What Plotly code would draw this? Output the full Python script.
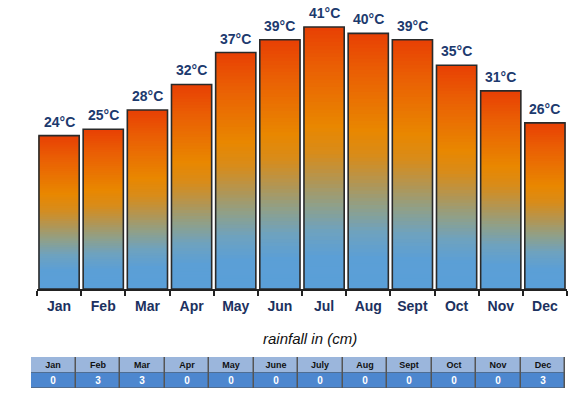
import plotly.graph_objects as go

months = ["Jan", "Feb", "Mar", "Apr", "May", "Jun", "Jul", "Aug", "Sept", "Oct", "Nov", "Dec"]
temps = [24, 25, 28, 32, 37, 39, 41, 40, 39, 35, 31, 26]
table_months = ["Jan", "Feb", "Mar", "Apr", "May", "June", "July", "Aug", "Sept", "Oct", "Nov", "Dec"]
rainfall = [0, 3, 3, 0, 0, 0, 0, 0, 0, 0, 0, 3]

W, H = 578, 398

# gradient stops (position from top of bar, rgb)
stops = [
    (0.00, (232, 64, 4)),
    (0.15, (234, 95, 4)),
    (0.38, (233, 135, 0)),
    (0.48, (216, 140, 26)),
    (0.58, (180, 149, 80)),
    (0.68, (143, 160, 137)),
    (0.78, (110, 162, 191)),
    (0.88, (91, 159, 214)),
    (1.00, (90, 159, 216)),
]

def grad(t):
    for (t0, c0), (t1, c1) in zip(stops[:-1], stops[1:]):
        if t0 <= t <= t1:
            f = (t - t0) / (t1 - t0) if t1 > t0 else 0
            c = [round(a + (b - a) * f) for a, b in zip(c0, c1)]
            return f"rgb({c[0]},{c[1]},{c[2]})"
    c = stops[-1][1]
    return f"rgb({c[0]},{c[1]},{c[2]})"

N = 70
fig = go.Figure()
for k in range(N):
    frac_bottom = k / N
    base = [v * frac_bottom for v in temps]
    height = [v - b for v, b in zip(temps, base)]
    t_from_top = 1 - (k + 0.5) / N
    fig.add_trace(go.Bar(
        x=months, y=height, base=base,
        marker=dict(color=grad(t_from_top), line=dict(width=0)),
        showlegend=False, hoverinfo="skip",
    ))

# outline
fig.add_trace(go.Bar(
    x=months, y=temps, base=[0] * len(temps),
    marker=dict(color="rgba(0,0,0,0)", line=dict(color="#2a2a2a", width=1.6)),
    showlegend=False,
))

for m, v in zip(months, temps):
    fig.add_annotation(
        x=m, y=v, text=f"{v}°C", showarrow=False, yanchor="bottom", yshift=4,
        font=dict(family="Arial, Liberation Sans", size=14, color="#1c3a6e", weight="bold"),
    )

fig.add_annotation(
    x=310 / W, y=1 - 338 / H, xref="paper", yref="paper", text="rainfall in (cm)",
    showarrow=False, xanchor="center", yanchor="middle",
    font=dict(family="Liberation Sans, Arial", size=15, color="#111", style="italic"),
)

# rainfall table drawn as two heatmap rows on their own axes
fig.add_trace(go.Heatmap(
    x=table_months, y=[1], z=[[0] * len(table_months)],
    text=[table_months], texttemplate="<b>%{text}</b>",
    textfont=dict(family="Arial, Liberation Sans", size=9, color="#111"),
    colorscale=[[0, "#9bb6dc"], [1, "#9bb6dc"]], showscale=False,
    xgap=1.5, ygap=1, xaxis="x2", yaxis="y2", hoverinfo="skip",
))
fig.add_trace(go.Heatmap(
    x=table_months, y=[0], z=[rainfall],
    text=[[str(r) for r in rainfall]], texttemplate="<b>%{text}</b>",
    textfont=dict(family="Arial, Liberation Sans", size=10, color="white"),
    colorscale=[[0, "#4d87cf"], [1, "#4d87cf"]], showscale=False,
    xgap=1.5, ygap=1, xaxis="x2", yaxis="y2",
))
fig.add_shape(
    type="rect", xref="paper", yref="paper", layer="below",
    x0=31 / W, x1=565 / W, y0=1 - 388 / H, y1=1 - 357 / H,
    fillcolor="#555555", line=dict(width=0),
)

fig.update_layout(
    width=W, height=H,
    margin=dict(l=0, r=0, t=0, b=0),
    paper_bgcolor="white", plot_bgcolor="rgba(0,0,0,0)",
    barmode="overlay", bargap=0.09,
    xaxis=dict(
        domain=[37 / W, 567 / W], type="category",
        showline=True, linecolor="#222", linewidth=2,
        ticks="outside", tickson="boundaries", ticklen=5, tickcolor="#222", tickwidth=1.5,
        tickfont=dict(family="Arial, Liberation Sans", size=14, color="#1c3160", weight="bold"),
        showgrid=False, automargin=False, ticklabelstandoff=3,
    ),
    yaxis=dict(
        domain=[1 - 289 / H, 1 - 1.4 / H], range=[0, 45], visible=False,
        showgrid=False, zeroline=False, automargin=False,
    ),
    xaxis2=dict(
        domain=[31 / W, 565 / W], type="category", anchor="y2", visible=False,
        range=[-0.5, len(table_months) - 0.5],
        showgrid=False, zeroline=False, automargin=False,
    ),
    yaxis2=dict(
        domain=[1 - 388 / H, 1 - 357 / H], anchor="x2", visible=False,
        range=[-0.5, 1.5],
        showgrid=False, zeroline=False, automargin=False,
    ),
)

fig.write_html(
    "out.html",
    config={"displayModeBar": False},
    post_script="document.body.style.margin='0px';document.body.style.overflow='hidden';",
)
